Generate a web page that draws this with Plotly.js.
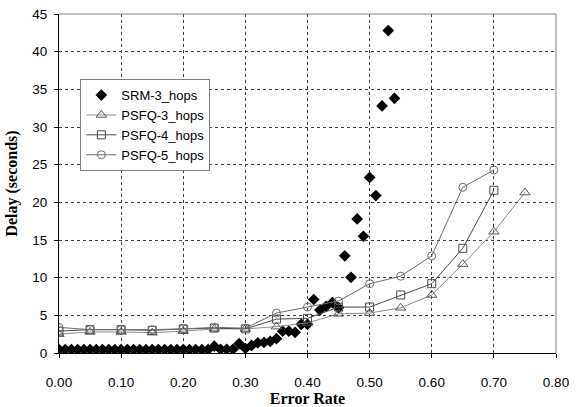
<!DOCTYPE html>
<html>
<head>
<meta charset="utf-8">
<script src="https://cdn.plot.ly/plotly-3.0.1.min.js"></script>
<style>html,body{margin:0;padding:0;background:#fff;}#chart{width:579px;height:407px;}</style>
</head>
<body>
<div id="chart"></div>
<script>
// SRM-3_hops: error rate 0.00..0.54 in steps of 0.01
const srmX = [0.00,0.01,0.02,0.03,0.04,0.05,0.06,0.07,0.08,0.09,0.10,0.11,0.12,0.13,0.14,0.15,0.16,0.17,0.18,0.19,0.20,0.21,0.22,0.23,0.24,0.25,0.26,0.27,0.28,0.29,0.30,0.31,0.32,0.33,0.34,0.35,0.36,0.37,0.38,0.39,0.40,0.41,0.42,0.43,0.44,0.45,0.46,0.47,0.48,0.49,0.50,0.51,0.52,0.53,0.54];
const srmY = [0.45,0.45,0.45,0.45,0.45,0.45,0.45,0.45,0.45,0.45,0.45,0.45,0.45,0.45,0.45,0.45,0.45,0.45,0.45,0.45,0.45,0.45,0.45,0.45,0.45,0.9,0.5,0.5,0.5,1.25,0.6,1.0,1.35,1.4,1.55,1.9,2.9,2.9,2.75,3.8,3.8,7.1,5.7,6.2,6.7,6.0,12.9,10.05,17.8,15.5,23.3,20.9,32.8,42.8,33.8];

const psfq3X = [0.00,0.05,0.10,0.15,0.20,0.25,0.30,0.35,0.40,0.45,0.50,0.55,0.60,0.65,0.70,0.75];
const psfq3Y = [2.5,2.8,2.8,2.7,2.9,3.2,3.2,3.5,4.0,5.2,5.3,6.0,7.7,11.8,16.1,21.3];

const psfq4X = [0.00,0.05,0.10,0.15,0.20,0.25,0.30,0.35,0.40,0.45,0.50,0.55,0.60,0.65,0.70];
const psfq4Y = [2.9,3.1,3.1,3.0,3.2,3.3,3.2,4.5,4.6,6.1,6.1,7.7,9.2,13.9,21.6];

const psfq5X = [0.00,0.05,0.10,0.15,0.20,0.25,0.30,0.35,0.40,0.45,0.50,0.55,0.60,0.65,0.70];
const psfq5Y = [3.4,3.1,3.1,3.1,3.2,3.4,3.3,5.3,6.1,6.9,9.2,10.2,12.9,22.0,24.3];

const yTicks = [0,5,10,15,20,25,30,35,40,45];
const xTicks = [0.0,0.1,0.2,0.3,0.4,0.5,0.6,0.7,0.8];
const xTickText = ['0.00','0.10','0.20','0.30','0.40','0.50','0.60','0.70','0.80'];

const traces = [
  {x: srmX, y: srmY, name: 'SRM-3_hops', type: 'scatter', mode: 'markers',
   marker: {symbol: 'diamond', size: 9, color: '#000000', line: {width: 0}}},
  {x: psfq3X, y: psfq3Y, name: 'PSFQ-3_hops', type: 'scatter', mode: 'lines+markers',
   line: {color: '#8c8c8c', width: 1},
   marker: {symbol: 'triangle-up-open', size: 9, color: '#5a5a5a', line: {width: 1}}},
  {x: psfq4X, y: psfq4Y, name: 'PSFQ-4_hops', type: 'scatter', mode: 'lines+markers',
   line: {color: '#4a4a4a', width: 1},
   marker: {symbol: 'square-open', size: 8, color: '#4a4a4a', line: {width: 1}}},
  {x: psfq5X, y: psfq5Y, name: 'PSFQ-5_hops', type: 'scatter', mode: 'lines+markers',
   line: {color: '#6e6e6e', width: 1},
   marker: {symbol: 'circle-open', size: 8, color: '#6e6e6e', line: {width: 1}}}
];

const layout = {
  width: 579, height: 407,
  margin: {l: 59, r: 23, t: 14, b: 54, pad: 0},
  paper_bgcolor: '#ffffff', plot_bgcolor: '#ffffff',
  font: {family: 'Liberation Sans, Arial, sans-serif', size: 13.5, color: '#000'},
  showlegend: true,
  legend: {
    x: 0.043, y: 0.808, xanchor: 'left', yanchor: 'top',
    bgcolor: '#ffffff', bordercolor: '#808080', borderwidth: 1,
    font: {family: 'Liberation Sans, Arial, sans-serif', size: 13, color: '#000'},
    tracegroupgap: 0
  },
  xaxis: {
    range: [0, 0.8], tickvals: xTicks, ticktext: xTickText,
    showgrid: true, gridcolor: '#404040', griddash: 'dot', gridwidth: 1,
    showline: true, linecolor: '#000', linewidth: 1,
    ticks: 'outside', ticklen: 4, tickcolor: '#000',
    ticklabelstandoff: 13, zeroline: false,
    title: {text: 'Error Rate', standoff: 8,
      font: {family: 'Liberation Serif, Times New Roman, serif', size: 16, color: '#000', weight: 'bold'}}
  },
  yaxis: {
    range: [0, 45], tickvals: yTicks,
    showgrid: true, gridcolor: '#404040', griddash: 'dot', gridwidth: 1,
    showline: true, linecolor: '#000', linewidth: 1,
    ticks: 'outside', ticklen: 4, tickcolor: '#000',
    ticklabelstandoff: 4, zeroline: false,
    title: {text: 'Delay (seconds)', standoff: 10,
      font: {family: 'Liberation Serif, Times New Roman, serif', size: 16, color: '#000', weight: 'bold'}}
  },
  shapes: [
    {type: 'line', xref: 'paper', yref: 'paper', x0: 0, x1: 1, y0: 1, y1: 1, line: {color: '#808080', width: 1}},
    {type: 'line', xref: 'paper', yref: 'paper', x0: 1, x1: 1, y0: 0, y1: 1, line: {color: '#808080', width: 1}}
  ]
};

Plotly.newPlot('chart', traces, layout, {staticPlot: true, displayModeBar: false});
</script>
</body>
</html>
